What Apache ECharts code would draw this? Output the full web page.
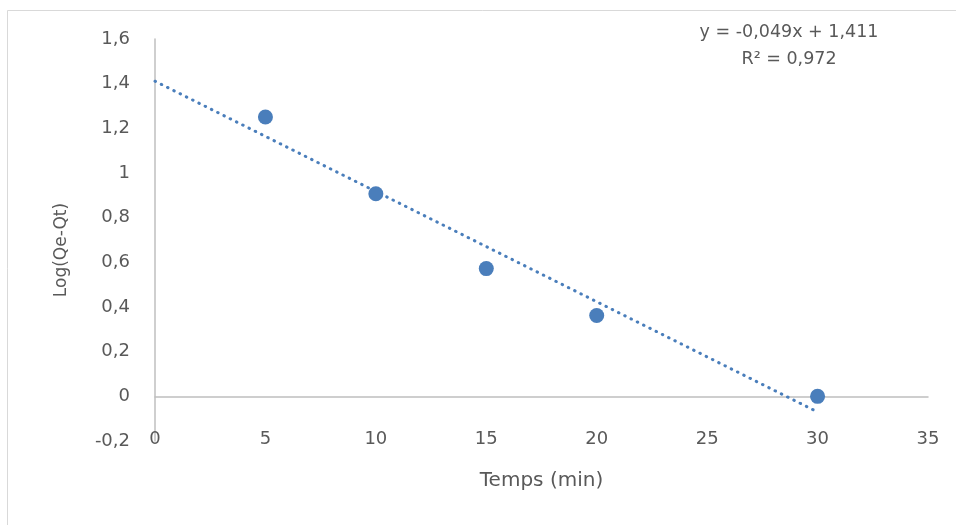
<!DOCTYPE html>
<html>
<head>
<meta charset="utf-8">
<script src="https://cdn.jsdelivr.net/npm/echarts@6/dist/echarts.min.js"></script>
<style>
html,body{margin:0;padding:0;background:#fff;}
#chart{width:956px;height:525px;}
</style>
</head>
<body>
<div id="chart"></div>
<script>
// Data
const timeMin = [5, 10, 15, 20, 30];
const logQeQt = [1.251, 0.907, 0.572, 0.362, 0.0];
const trendX = [0, 30];
const trendY = [1.411, -0.07];
const equationText = 'y = -0,049x + 1,411';
const r2Text = 'R² = 0,972';
const xTitle = 'Temps (min)';
const yTitle = 'Log(Qe-Qt)';

const FONT = '"DejaVu Sans", "Open Sans", sans-serif';
const GREY_TEXT = '#595959';
const BLUE = '#4a7ebb';

const chart = echarts.init(document.getElementById('chart'), null, {renderer: 'canvas'});
const fmt = v => String(Math.round(v * 10) / 10).replace('.', ',');

chart.setOption({
  animation: false,
  backgroundColor: '#ffffff',
  graphic: [{
    type: 'rect',
    shape: {x: 7.5, y: 10.5, width: 1000, height: 540},
    style: {fill: 'none', stroke: '#d9d9d9', lineWidth: 1},
    silent: true
  }],
  title: {
    text: equationText + '\n' + r2Text,
    left: 784, top: 14, textAlign: 'center',
    textStyle: {fontFamily: FONT, fontSize: 17.5, fontWeight: 'normal', color: GREY_TEXT, lineHeight: 27}
  },
  grid: {left: 155, right: 28, top: 39, bottom: 84, containLabel: false, outerBoundsMode: 'none'},
  xAxis: {
    type: 'value', min: 0, max: 35, interval: 5,
    name: xTitle, nameLocation: 'middle', nameGap: 30, nameMoveOverlap: false,
    nameTextStyle: {fontFamily: FONT, fontSize: 20, color: GREY_TEXT},
    axisLine: {onZero: true, lineStyle: {color: '#bfbfbf', width: 1.5}},
    axisTick: {show: false},
    splitLine: {show: false},
    axisLabel: {margin: -11, fontFamily: FONT, fontSize: 18, color: GREY_TEXT}
  },
  yAxis: {
    type: 'value', min: -0.2, max: 1.6, interval: 0.2,
    name: yTitle, nameLocation: 'middle', nameGap: 85, nameRotate: 90,
    nameTextStyle: {fontFamily: FONT, fontSize: 17, color: GREY_TEXT, padding: [0, 20, 0, 0]},
    axisLine: {show: true, lineStyle: {color: '#bfbfbf', width: 1.5}},
    axisTick: {show: false},
    splitLine: {show: false},
    axisLabel: {margin: 25, fontFamily: FONT, fontSize: 18, color: GREY_TEXT, formatter: fmt}
  },
  series: [
    {
      type: 'line',
      data: trendX.map((x, i) => [x, trendY[i]]),
      symbol: 'none',
      lineStyle: {color: BLUE, width: 3, type: [0.5, 6.5], cap: 'round'},
      z: 2
    },
    {
      type: 'scatter',
      data: timeMin.map((x, i) => [x, logQeQt[i]]),
      symbol: 'circle', symbolSize: 15,
      itemStyle: {color: BLUE, opacity: 1},
      z: 3
    }
  ]
});
</script>
</body>
</html>
